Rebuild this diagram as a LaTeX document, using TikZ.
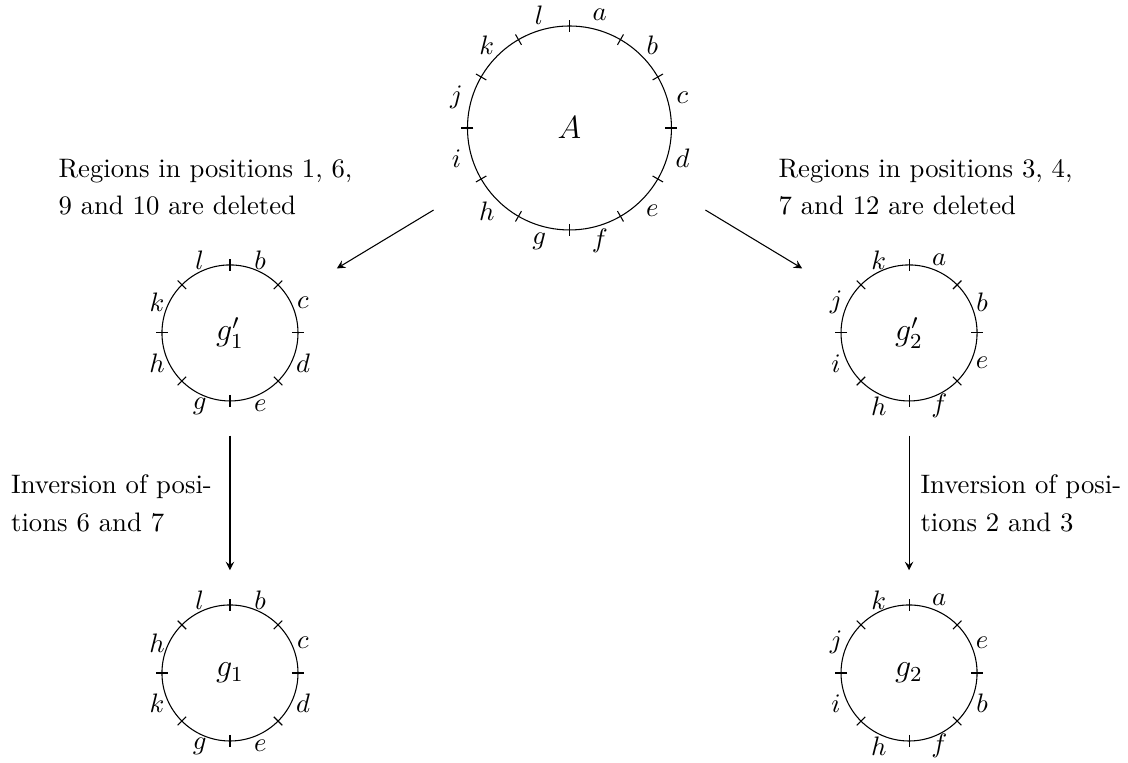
\documentclass[tikz,border=0pt]{standalone}
\usepackage{tikz}

\begin{document}
\begin{tikzpicture}[>=stealth,
  bigring/.style={circle, draw, minimum size=2.684cm, inner sep=0pt},
  smallring/.style={circle, draw, minimum size=1.79cm, inner sep=0pt},
  lbl/.style={inner sep=0pt},
  note/.style={align=left, inner sep=0pt, anchor=north west, font=\fontsize{10}{14}\selectfont}]
\useasboundingbox (0,0) rectangle (14.842,10.039);
\node[bigring] (A) at (7.493,8.355) {\large $A$};
\node[smallring] (g1p) at (3.026,5.658) {\large $g_1'$};
\node[smallring] (g2p) at (11.961,5.658) {\large $g_2'$};
\node[smallring] (g1) at (3.026,1.184) {\large $g_1$};
\node[smallring] (g2) at (11.961,1.184) {\large $g_2$};
\foreach \t in {0,30,...,330}
  \draw ([shift={(\t:1.263)}]A.center) -- ([shift={(\t:1.421)}]A.center);
\foreach \n in {g1p,g2p,g1,g2}
  \foreach \t in {0,45,...,315}
    \draw ([shift={(\t:0.816)}]\n.center) -- ([shift={(\t:0.974)}]\n.center);
\foreach \ang/\lab in {75/a,45/b,15/c,-15/d,-45/e,-75/f,-105/g,-135/h,-165/i,165/j,135/k,105/l}
  \node[lbl] (A-\lab) at ([shift={(\ang:1.54)}]A.center) {$\lab$};
\foreach \ang/\lab in {112.5/l,67.5/b,22.5/c,-22.5/d,-67.5/e,-112.5/g,-157.5/h,157.5/k}
  \node[lbl] (g1p-\lab) at ([shift={(\ang:1.04)}]g1p.center) {$\lab$};
\foreach \ang/\lab in {112.5/k,67.5/a,22.5/b,-22.5/e,-67.5/f,-112.5/h,-157.5/i,157.5/j}
  \node[lbl] (g2p-\lab) at ([shift={(\ang:1.04)}]g2p.center) {$\lab$};
\foreach \ang/\lab in {112.5/l,67.5/b,22.5/c,-22.5/d,-67.5/e,-112.5/g,-157.5/k,157.5/h}
  \node[lbl] (g1-\lab) at ([shift={(\ang:1.04)}]g1.center) {$\lab$};
\foreach \ang/\lab in {112.5/k,67.5/a,22.5/e,-22.5/b,-67.5/f,-112.5/h,-157.5/i,157.5/j}
  \node[lbl] (g2-\lab) at ([shift={(\ang:1.04)}]g2.center) {$\lab$};
\draw[->, shorten <=0.74cm, shorten >=0.74cm] (A) -- (g1p);
\draw[->, shorten <=0.74cm, shorten >=0.74cm] (A) -- (g2p);
\draw[->, shorten <=0.45cm, shorten >=0.45cm] (g1p) -- (g1);
\draw[->, shorten <=0.45cm, shorten >=0.45cm] (g2p) -- (g2);
\node[note] (del1) at (0.763,7.950) {Regions in positions 1, 6,\\9 and 10 are deleted};
\node[note] (del2) at (10.237,7.950) {Regions in positions 3, 4,\\7 and 12 are deleted};
\node[note] (inv1) at (0.140,3.796) {Inversion of posi-\\tions 6 and 7};
\node[note] (inv2) at (12.105,3.796) {Inversion of posi-\\tions 2 and 3};
\end{tikzpicture}
\end{document}
